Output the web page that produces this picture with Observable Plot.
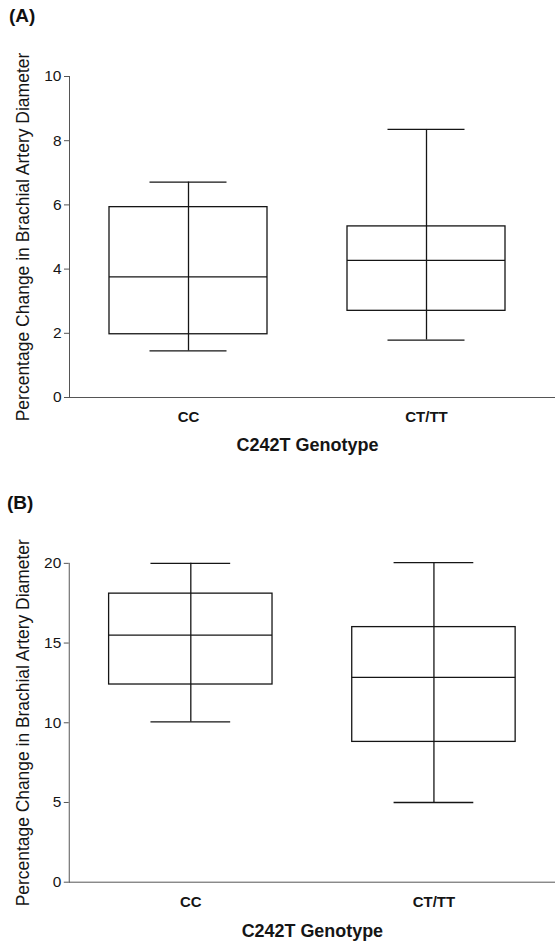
<!DOCTYPE html>
<html>
<head>
<meta charset="utf-8">
<script src="https://cdn.jsdelivr.net/npm/d3@7"></script>
<script src="https://cdn.jsdelivr.net/npm/@observablehq/plot@0.6"></script>
<style>
  html, body { margin: 0; padding: 0; background: #fff; overflow: hidden; }
  #root { position: relative; width: 555px; height: 942px; font-family: "Liberation Sans", Arial, sans-serif; }
  .panel-title { position: absolute; font-weight: bold; font-size: 19px; color: #111; }
  .svgwrap { position: absolute; left: 0; }
</style>
</head>
<body>
<div id="root">
  <div class="panel-title" style="left:9px; top:5px;">(A)</div>
  <div class="svgwrap" id="pa" style="top:40px;"></div>
  <div class="panel-title" style="left:7px; top:492px;">(B)</div>
  <div class="svgwrap" id="pb" style="top:520px;"></div>
</div>
<script>
const categories = ["CC", "CT/TT"];
const yLabel = "Percentage Change in Brachial Artery Diameter";
const xLabel = "C242T Genotype";

// Panel A values
const aWhiskerLow  = [1.45, 1.79];
const aQ1          = [1.97, 2.70];
const aMedian      = [3.76, 4.27];
const aQ3          = [5.93, 5.33];
const aWhiskerHigh = [6.71, 8.35];
const aTicks = [0, 2, 4, 6, 8, 10];

// Panel B values
const bWhiskerLow  = [10.05, 5.0];
const bQ1          = [12.4, 8.8];
const bMedian      = [15.5, 12.85];
const bQ3          = [18.1, 16.0];
const bWhiskerHigh = [20.0, 20.05];
const bTicks = [0, 5, 10, 15, 20];

function rows(lo, q1, med, q3, hi) {
  return categories.map((c, i) => ({cat: c, lo: lo[i], q1: q1[i], med: med[i], q3: q3[i], hi: hi[i]}));
}

function panel({data, ticks, width, height, marginTop, marginBottom, marginRight, pad, capInset, titleDy}) {
  const ink = "#151515";
  return Plot.plot({
    width, height,
    marginLeft: 69, marginRight, marginTop, marginBottom,
    style: {fontFamily: "'Liberation Sans', Arial, sans-serif", background: "white", color: ink, overflow: "visible"},
    x: {type: "band", domain: categories, paddingInner: pad, paddingOuter: pad / 2, align: 0.5, axis: null},
    y: {domain: [ticks[0], ticks[ticks.length - 1]], axis: null},
    marks: [
      Plot.frame({anchor: "left", stroke: "#555", strokeWidth: 1}),
      Plot.ruleY([0], {stroke: "#555", strokeWidth: 1, insetRight: -10}),
      Plot.axisY({ticks, tickSize: 5, tickFormat: () => "", label: null, stroke: "#555"}),
      Plot.text(ticks, {y: d => d, frameAnchor: "left", dx: -8, textAnchor: "end", lineAnchor: "middle", fontSize: 15.5, fill: ink}),
      Plot.text(categories, {x: d => d, frameAnchor: "bottom", dy: 20, textAnchor: "middle", lineAnchor: "middle", fontSize: 15, fontWeight: "bold", fill: ink}),
      Plot.text([yLabel], {frameAnchor: "left", rotate: -90, dx: -46, fontSize: 17.5, lineAnchor: "middle", textAnchor: "middle", fill: ink}),
      Plot.text([xLabel], {frameAnchor: "bottom", dy: titleDy, fontSize: 18, fontWeight: "bold", lineAnchor: "middle", textAnchor: "middle", fill: ink}),
      Plot.ruleX(data, {x: "cat", y1: "lo", y2: "hi", stroke: ink, strokeWidth: 1.3}),
      Plot.barY(data, {x: "cat", y1: "q1", y2: "q3", fill: "none", stroke: ink, strokeWidth: 1.3}),
      Plot.tickY(data, {x: "cat", y: "med", stroke: ink, strokeWidth: 1.3}),
      Plot.tickY(data, {x: "cat", y: "lo", stroke: ink, strokeWidth: 1.3, insetLeft: capInset, insetRight: capInset}),
      Plot.tickY(data, {x: "cat", y: "hi", stroke: ink, strokeWidth: 1.3, insetLeft: capInset, insetRight: capInset})
    ]
  });
}

document.getElementById("pa").append(panel({
  data: rows(aWhiskerLow, aQ1, aMedian, aQ3, aWhiskerHigh),
  ticks: aTicks, width: 555, height: 420, marginTop: 36, marginBottom: 63, marginRight: 10,
  pad: 0.336, capInset: 40.5, titleDy: 48
}));

document.getElementById("pb").append(panel({
  data: rows(bWhiskerLow, bQ1, bMedian, bQ3, bWhiskerHigh),
  ticks: bTicks, width: 557, height: 422, marginTop: 43, marginBottom: 59, marginRight: 0,
  pad: 0.328, capInset: 42, titleDy: 49
}));
</script>
</body>
</html>
